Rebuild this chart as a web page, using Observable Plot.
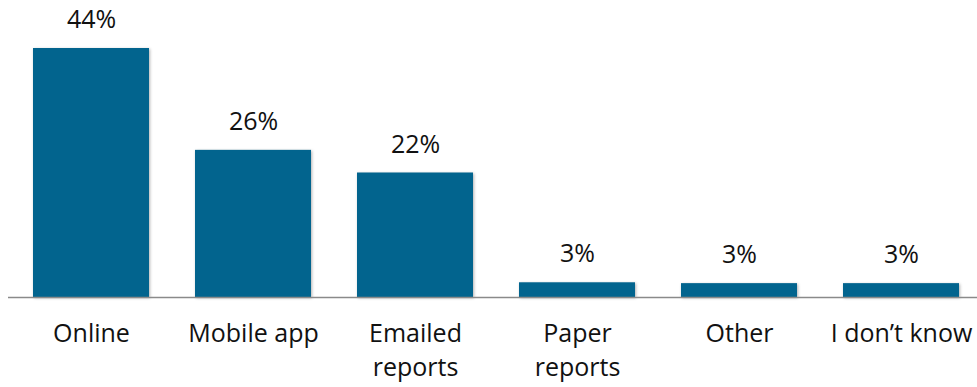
<!DOCTYPE html>
<html>
<head>
<meta charset="utf-8">
<script src="https://cdn.jsdelivr.net/npm/d3@7"></script>
<script src="https://cdn.jsdelivr.net/npm/@observablehq/plot@0.6"></script>
<style>
  html, body { margin: 0; padding: 0; background: #fff; }
  #chart svg { display: block; }
</style>
</head>
<body>
<div id="chart"></div>
<script>
const categories = ["Online", "Mobile app", "Emailed\nreports", "Paper\nreports", "Other", "I don\u2019t know"];
const values = [44, 26, 22, 2.6, 2.45, 2.45];
const valueLabels = ["44%", "26%", "22%", "3%", "3%", "3%"];

const data = categories.map((c, i) => ({cat: c, value: values[i], label: valueLabels[i], zero: 0}));

const fontFamily = "'Open Sans', sans-serif";
const fontSize = 25;

const chart = Plot.plot({
  width: 977,
  height: 387,
  marginLeft: 8,
  marginRight: 0,
  marginTop: 0,
  marginBottom: 0,
  style: {fontFamily, background: "#fff"},
  x: {domain: categories, range: [7.7, 983.7], paddingInner: 0.287, paddingOuter: 0.1435, axis: null},
  y: {domain: [0, 44], range: [297, 48], axis: null},
  marks: [
    Plot.barY(data, {x: "cat", y: "value", fill: "#02648E"}),
    Plot.ruleY([0], {stroke: "#8a8a8a", strokeWidth: 1.5}),
    Plot.text(data, {x: "cat", y: "value", text: "label", dy: -28.5, fontSize, fill: "#111"}),
    Plot.text(data, {x: "cat", y: "zero", text: "cat", lineAnchor: "top", dy: 20, fontSize, lineHeight: 34 / fontSize, fill: "#111"})
  ]
});

d3.select(chart).selectAll('g[aria-label="bar"] rect')
  .style("filter", "drop-shadow(1px 1px 1.5px rgba(0,0,0,0.3))");

document.getElementById("chart").appendChild(chart);
</script>
</body>
</html>
